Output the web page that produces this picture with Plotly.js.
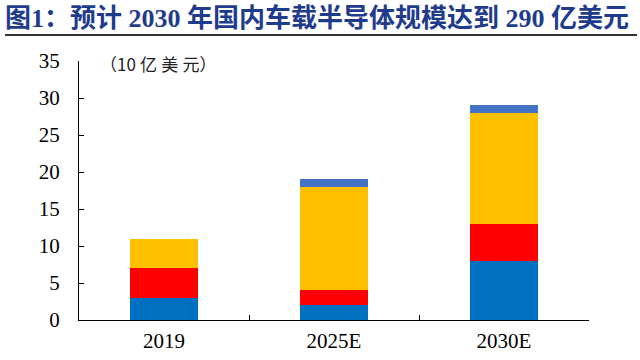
<!DOCTYPE html>
<html>
<head>
<meta charset="utf-8">
<script src="https://cdn.plot.ly/plotly-3.0.1.min.js"></script>
<style>html,body{margin:0;padding:0;background:#fff;}#chart{width:640px;height:360px;}</style>
</head>
<body>
<div id="chart"></div>
<script>
const categories = ["2019", "2025E", "2030E"];
const seriesBlue = [3, 2, 8];
const seriesRed = [4, 2, 5];
const seriesYellow = [4, 14, 15];
const seriesTop = [0, 1, 1];
const yTicks = [0, 5, 10, 15, 20, 25, 30, 35];

const colors = ["#0070C0", "#FF0000", "#FFC000", "#4472C4"];
const series = [seriesBlue, seriesRed, seriesYellow, seriesTop];
const traces = series.map((s, i) => ({
  type: "bar",
  x: categories,
  y: s,
  marker: {color: colors[i], line: {width: 0}},
  width: 0.4,
  hoverinfo: "none"
}));

const layout = {
  width: 640, height: 360,
  margin: {l: 79, r: 51, t: 61, b: 40},
  barmode: "stack",
  showlegend: false,
  paper_bgcolor: "#fff", plot_bgcolor: "#fff",
  font: {family: "Liberation Serif, Noto Sans CJK SC", color: "#000"},
  title: {
    text: "图1：预计 2030 年国内车载半导体规模达到 290 亿美元",
    font: {family: "Liberation Serif, Noto Sans CJK SC", size: 26, color: "#1F3C8C", weight: "bold"},
    xref: "container", yref: "container",
    x: 5/640, xanchor: "left",
    y: 1 - 18/360, yanchor: "middle"
  },
  xaxis: {
    type: "category",
    range: [-0.5, 2.5],
    tickson: "boundaries",
    ticks: "inside", ticklen: 5, tickcolor: "#000", tickwidth: 1,
    showline: true, linecolor: "#000", linewidth: 1,
    showgrid: false, zeroline: false,
    ticklabelstandoff: 2,
    tickfont: {size: 21, family: "Liberation Serif", color: "#000"}
  },
  yaxis: {
    range: [0, 35],
    tickvals: yTicks,
    ticktext: yTicks.map(String),
    ticks: "inside", ticklen: 5, tickcolor: "#000", tickwidth: 1,
    showline: true, linecolor: "#000", linewidth: 1,
    showgrid: false, zeroline: false,
    ticklabelstandoff: 14,
    tickfont: {size: 21, family: "Liberation Serif", color: "#000"}
  },
  annotations: [{
    text: "（10\u2005亿\u2005美\u2005元）",
    xref: "paper", yref: "paper",
    x: (98 - 79) / 510, xanchor: "left",
    y: 1 - (64 - 61) / 259, yanchor: "middle",
    showarrow: false,
    font: {family: "Noto Sans CJK SC", size: 17, color: "#222"}
  }],
  shapes: [{
    type: "line", xref: "paper", yref: "paper",
    x0: (5 - 79) / 510, x1: (637 - 79) / 510,
    y0: (320 - 35) / 259, y1: (320 - 35) / 259,
    line: {color: "#333", width: 2}
  }]
};

Plotly.newPlot("chart", traces, layout, {displayModeBar: false, staticPlot: true});
</script>
</body>
</html>
